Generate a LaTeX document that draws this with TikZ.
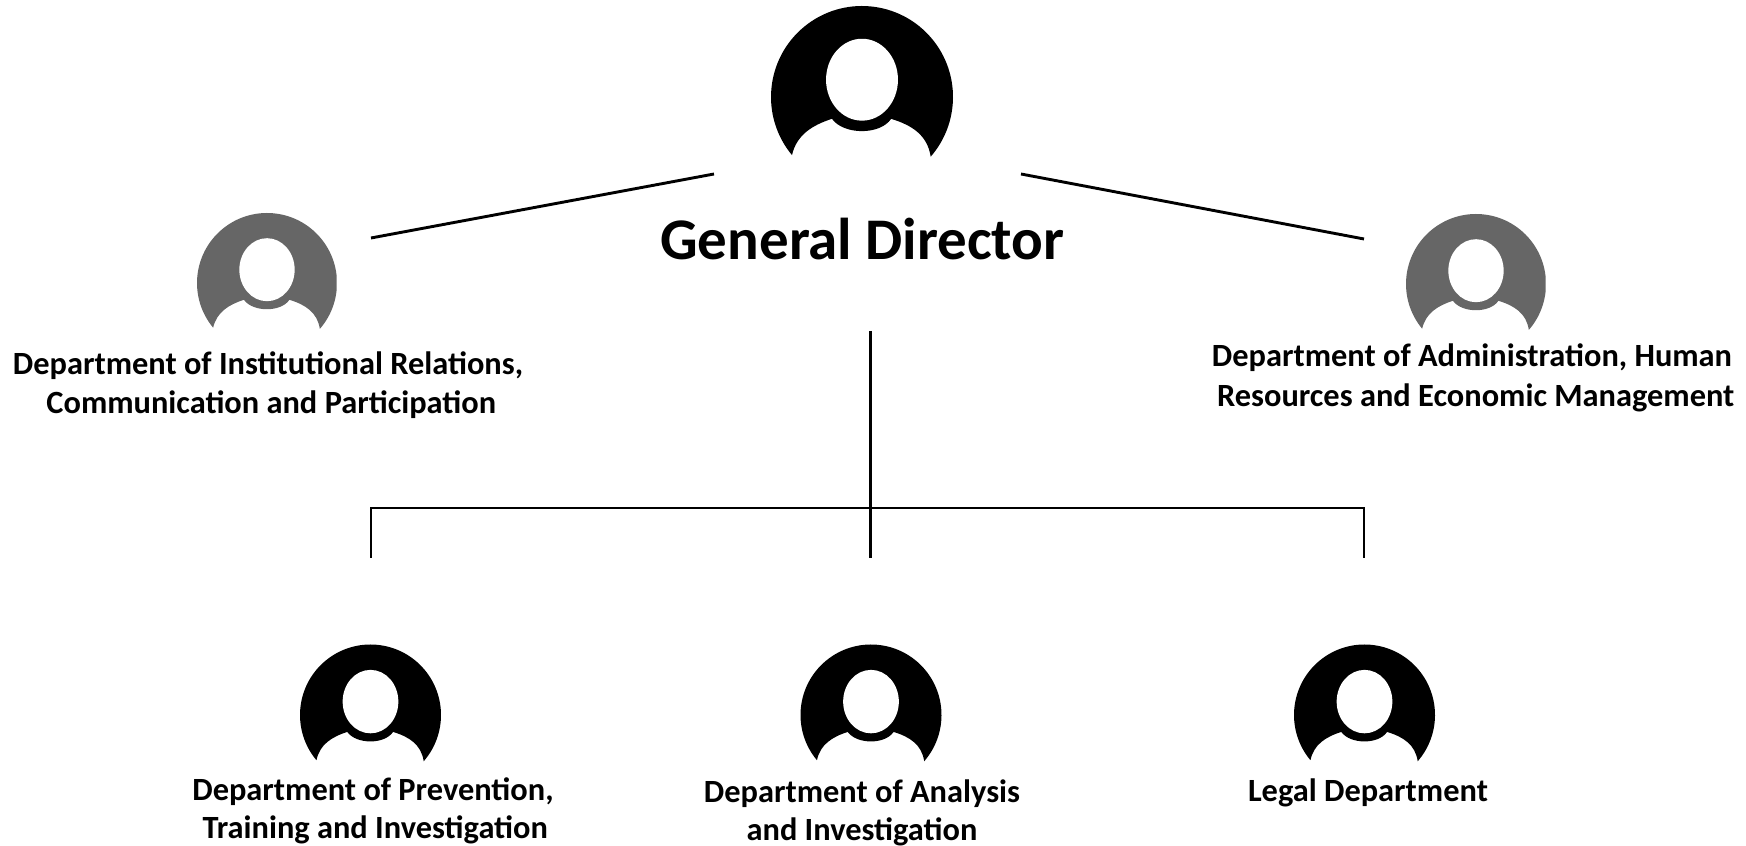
\documentclass[tikz,border=0pt]{standalone}
\usepackage{fontspec}
\setmainfont{Carlito}
\tikzset{
   avatar/.pic={
      \fill[pic actions] (219.7:1) arc[start angle=219.7, end angle=-41, radius=1]
         .. controls (0.72,-0.42) and (0.55,-0.31) .. (0.32,-0.24)
         .. controls (0.2,-0.42) and (-0.2,-0.42) .. (-0.33,-0.24)
         .. controls (-0.55,-0.31) and (-0.72,-0.42) .. cycle;
      \fill[white] (0,0.19) ellipse (0.395 and 0.45);
   },
   deptlabel/.style={align=center, font=\bfseries\fontsize{32.4}{38.5}\selectfont, inner sep=0pt},
   orgline/.style={draw=black, line width=2.9pt},
}
\begin{document}
\begin{tikzpicture}[x=1pt, y=1pt]
   \useasboundingbox (0,0) rectangle (1746,846);
   % avatars
   \pic[black, scale=91] at (862,749) {avatar};
   \begin{scope}
      \clip (190,480) rectangle (336.5,640);
      \pic[black!60, scale=70] at (267,563) {avatar};
   \end{scope}
   \begin{scope}
      \clip (1400,480) rectangle (1545.5,640);
      \pic[black!60, scale=70] at (1476,562) {avatar};
   \end{scope}
   \pic[black, scale=70.5] at (370.5,131) {avatar};
   \pic[black, scale=70.5] at (871,131) {avatar};
   \pic[black, scale=70.5] at (1364.5,131) {avatar};
   % labels
   \node[inner sep=0pt, font=\bfseries\fontsize{59}{60}\selectfont] (director) at (862.5,607) {General Director};
   \node[deptlabel] (relations) at (268,461) {Department of Institutional Relations,\\\hspace*{6.6pt}Communication and Participation};
   \node[deptlabel] (administration) at (1472,468) {Department of Administration, Human\\[1pt]\hspace*{7.4pt}Resources and Economic Management};
   \node[deptlabel] (prevention) at (373,035) {Department of Prevention,\\\hspace*{4.4pt}Training and Investigation};
   \node[deptlabel] (analysis) at (862,033) {Department of Analysis\\and Investigation};
   \node[deptlabel] (legal) at (1368,053) {Legal Department};
   % connectors
   \coordinate (dirleft) at (714,672);
   \coordinate (relend) at (371,608);
   \coordinate (dirright) at (1021,672);
   \coordinate (admend) at (1364,607);
   \coordinate (dirdown) at (870.7,515);
   \coordinate (busleft) at (371,338);
   \coordinate (busright) at (1364,338);
   \coordinate (prevend) at (371,288);
   \coordinate (anaend) at (870.7,288);
   \coordinate (legend) at (1364,288);
   \draw[orgline] (dirleft) -- (relend);
   \draw[orgline] (dirright) -- (admend);
   \draw[orgline] (dirdown) -- (anaend);
   \draw[orgline] (prevend) -- (busleft) -- (busright) -- (legend);
\end{tikzpicture}
\end{document}
